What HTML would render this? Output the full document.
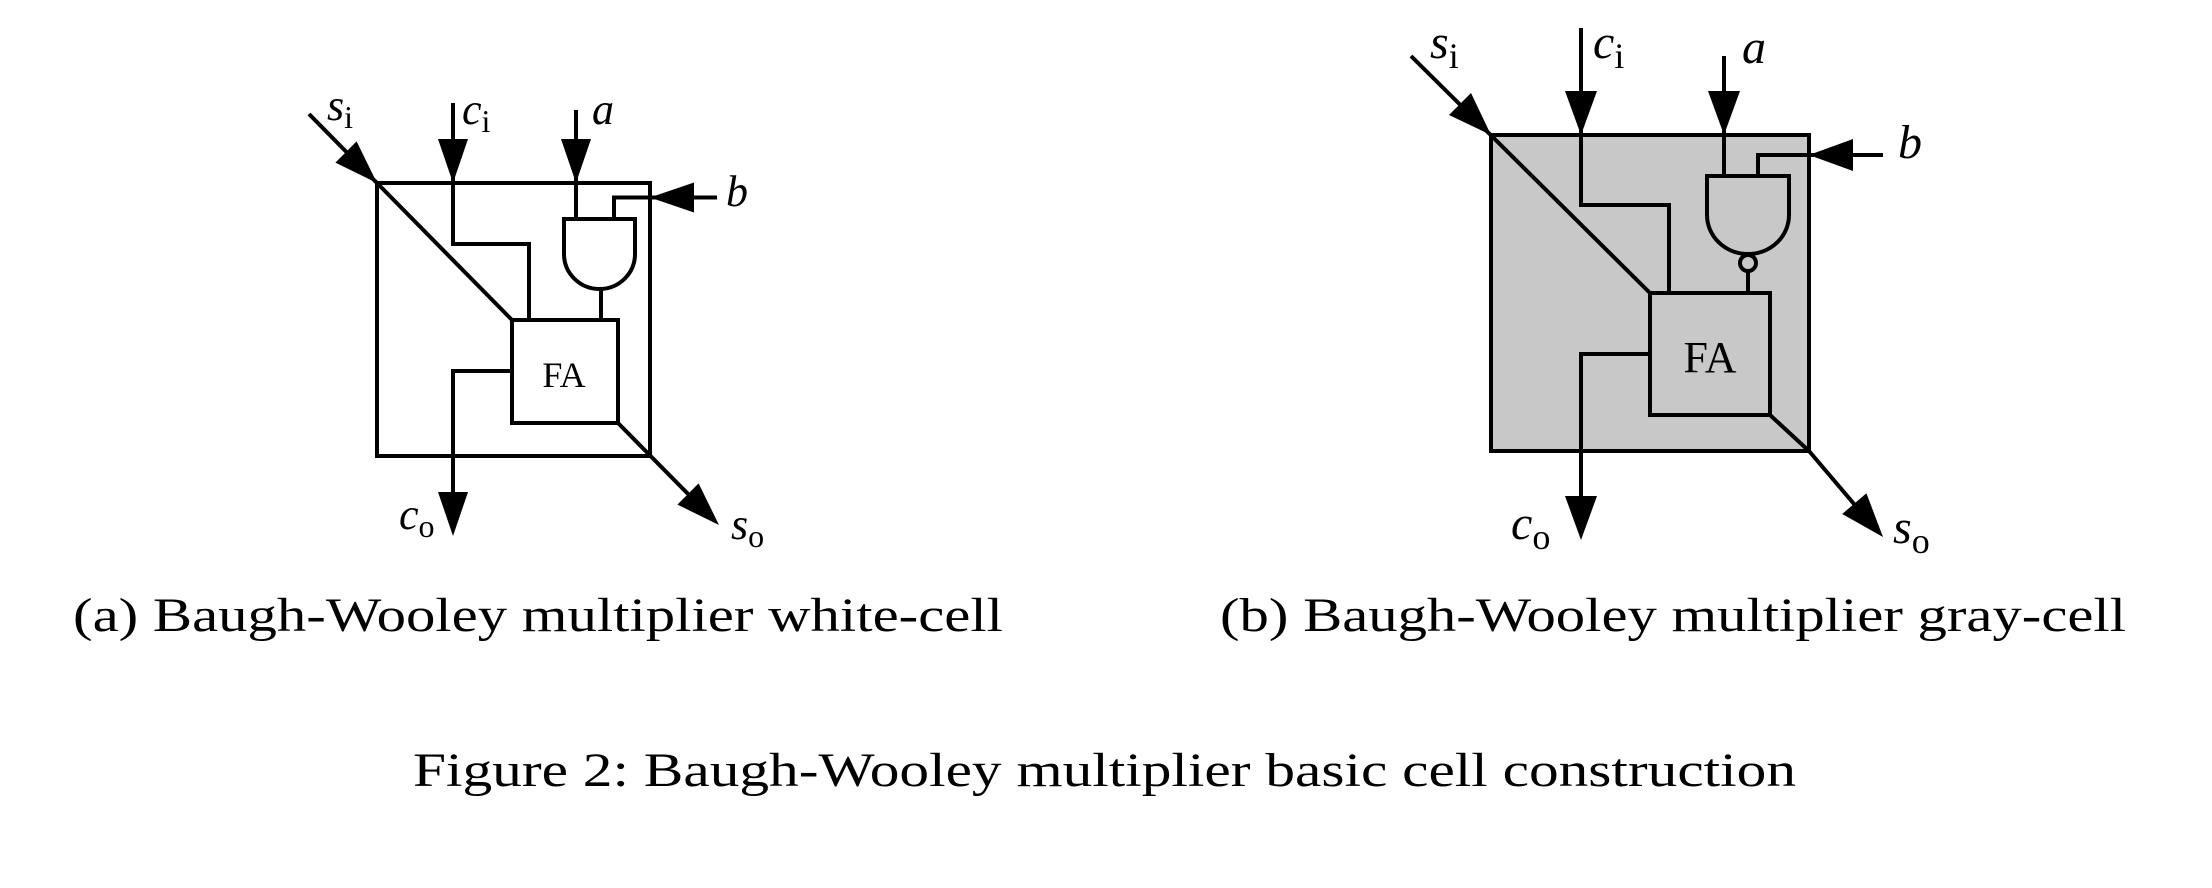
<!DOCTYPE html>
<html><head><meta charset="utf-8"><style>
html,body{margin:0;padding:0;background:#fff;}
svg{display:block}
text{font-family:"Liberation Serif",serif;fill:#000}
.it{font-style:italic}
</style></head><body>
<svg width="2212" height="888" viewBox="0 0 2212 888" xmlns="http://www.w3.org/2000/svg">
<g fill="none" stroke="#000" stroke-width="4" stroke-linejoin="miter">
<!-- (a) -->
<rect x="377" y="183" width="273" height="273"/>
<polyline points="309,114 512,320"/>
<polyline points="453,103 453,244 529,244 529,320"/>
<polyline points="576,110 576,219"/>
<polyline points="717,197.5 614,197.5 614,219"/>
<path d="M564,219 H635 V254 A35.5,35 0 0 1 564,254 Z"/>
<line x1="601" y1="289" x2="601" y2="320"/>
<rect x="512" y="320" width="106" height="103"/>
<polyline points="512,371 453,371 453,500"/>
<polyline points="618,423 695,501"/>
<!-- (b) -->
<rect x="1491" y="135" width="318" height="316" fill="#c8c8c8"/>
<polyline points="1411,56 1650,293"/>
<polyline points="1581,28 1581,205 1669,205 1669,293"/>
<polyline points="1724,56 1724,176"/>
<polyline points="1883,155 1758,155 1758,176"/>
<path d="M1707,176 H1789 V215 A41,39 0 0 1 1707,215 Z"/>
<circle cx="1748" cy="263" r="8"/>
<line x1="1748" y1="271" x2="1748" y2="293"/>
<rect x="1650" y="293" width="120" height="122"/>
<polyline points="1650,354 1581,354 1581,520"/>
<polyline points="1770,415 1809,451 1860,511"/>
</g>
<g fill="#000">
<!-- (a) arrows -->
<polygon points="377,183 335.4,162.6 356.6,141.4"/>
<polygon points="453,183 438,139 468,139"/>
<polygon points="576,183 561,139 591,139"/>
<polygon points="650,197.5 694,182.5 694,212.5"/>
<polygon points="453,536 438,492 468,492"/>
<polygon points="719,525 677.4,504.6 698.6,483.4"/>
<!-- (b) arrows -->
<polygon points="1491,135 1449,115 1471,93"/>
<polygon points="1581,135 1565,91 1597,91"/>
<polygon points="1724,135 1708,91 1740,91"/>
<polygon points="1809,155 1853,139 1853,171"/>
<polygon points="1581,540 1565,496 1597,496"/>
<polygon points="1883,537 1842.2,514 1866.4,493.2"/>
</g>
<!-- labels (a) -->
<text x="564" y="387" font-size="36" text-anchor="middle">FA</text>
<text x="327" y="120" font-size="44" class="it">s<tspan font-size="32" font-style="normal" dy="8">i</tspan></text>
<text x="462" y="124" font-size="44" class="it">c<tspan font-size="32" font-style="normal" dy="8">i</tspan></text>
<text x="592" y="124" font-size="44" class="it">a</text>
<text x="726" y="206" font-size="44" class="it">b</text>
<text x="399" y="529" font-size="44" class="it">c<tspan font-size="32" font-style="normal" dy="8">o</tspan></text>
<text x="731" y="539" font-size="44" class="it">s<tspan font-size="32" font-style="normal" dy="8">o</tspan></text>
<!-- labels (b) -->
<text x="1710" y="372" font-size="44" text-anchor="middle">FA</text>
<text x="1430" y="58" font-size="48" class="it">s<tspan font-size="36" font-style="normal" dy="10">i</tspan></text>
<text x="1593" y="58" font-size="48" class="it">c<tspan font-size="36" font-style="normal" dy="10">i</tspan></text>
<text x="1742" y="63" font-size="48" class="it">a</text>
<text x="1898" y="158" font-size="48" class="it">b</text>
<text x="1511" y="539" font-size="48" class="it">c<tspan font-size="36" font-style="normal" dy="10">o</tspan></text>
<text x="1893" y="543" font-size="48" class="it">s<tspan font-size="36" font-style="normal" dy="10">o</tspan></text>
<!-- captions -->
<text x="73" y="631" font-size="48" textLength="930" lengthAdjust="spacingAndGlyphs">(a) Baugh-Wooley multiplier white-cell</text>
<text x="1220" y="631" font-size="48" textLength="906" lengthAdjust="spacingAndGlyphs">(b) Baugh-Wooley multiplier gray-cell</text>
<text x="413" y="786" font-size="48" textLength="1383" lengthAdjust="spacingAndGlyphs">Figure 2: Baugh-Wooley multiplier basic cell construction</text>
</svg>
</body></html>
